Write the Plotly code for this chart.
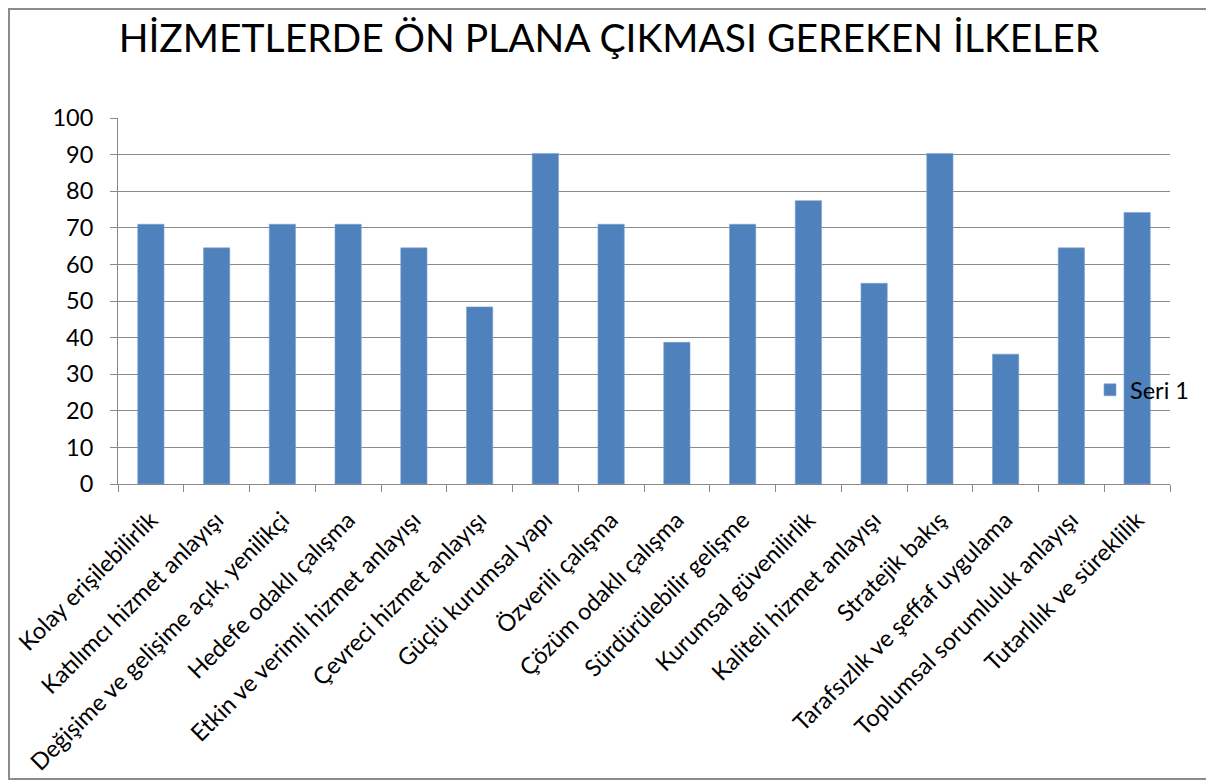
import plotly.graph_objects as go

categories = [
    "Kolay erişilebilirlik",
    "Katılımcı hizmet anlayışı",
    "Değişime ve gelişime açık, yenilikçi",
    "Hedefe odaklı çalışma",
    "Etkin ve verimli hizmet anlayışı",
    "Çevreci hizmet anlayışı",
    "Güçlü kurumsal yapı",
    "Özverili çalışma",
    "Çözüm odaklı çalışma",
    "Sürdürülebilir gelişme",
    "Kurumsal güvenilirlik",
    "Kaliteli hizmet anlayışı",
    "Stratejik bakış",
    "Tarafsızlık ve şeffaf uygulama",
    "Toplumsal sorumluluk anlayışı",
    "Tutarlılık ve süreklilik",
]
seri1 = [70.97, 64.52, 70.97, 70.97, 64.52, 48.39, 90.32, 70.97,
         38.71, 70.97, 77.42, 54.84, 90.32, 35.48, 64.52, 74.19]
series_name = "Seri 1"
title_text = "HİZMETLERDE ÖN PLANA ÇIKMASI GEREKEN İLKELER"
y_ticks = list(range(0, 101, 10))

FONT = "Lato, 'Open Sans', sans-serif"
GRID = "#8a8a8a"
FS = 23.5

fig = go.Figure()
fig.add_trace(go.Bar(
    x=categories, y=seri1, name=series_name,
    marker=dict(color="#4F81BD", line=dict(color="#7FA2CF", width=0.6)),
    showlegend=True,
))

# page has an 8px body margin; figure coords = screen - 8
W, H = 1206, 774
ml, mr, mt, mb = 110, 44, 110, 298
pw, ph = W - ml - mr, H - mt - mb

def px_x(x):
    return (x - ml) / pw

def px_y(y):
    return (H - mb - y) / ph

fig.update_layout(
    width=W, height=H,
    margin=dict(l=ml, r=mr, t=mt, b=mb, autoexpand=False),
    paper_bgcolor="white", plot_bgcolor="white",
    font=dict(family=FONT, color="#000000", size=FS),
    title=dict(text=title_text, x=601 / W, xanchor="center", xref="container",
               y=1 - 30 / H, yanchor="middle", yref="container",
               font=dict(family=FONT, size=39, color="#000000")),
    bargap=0.6,
    showlegend=True,
    legend=dict(x=px_x(1082), y=px_y(382), xanchor="left", yanchor="middle",
                bgcolor="rgba(0,0,0,0)", font=dict(size=FS, family=FONT),
                itemclick=False, borderwidth=0),
    xaxis=dict(
        type="category", tickangle=-45, tickson="boundaries",
        ticks="outside", ticklen=7, tickcolor=GRID,
        showline=True, linecolor=GRID, linewidth=1,
        showgrid=False, tickfont=dict(size=FS, family=FONT),
        ticklabelstandoff=12, fixedrange=True,
    ),
    yaxis=dict(
        range=[0, 100], tickvals=y_ticks, ticks="outside", ticklen=7,
        tickcolor=GRID, showline=True, linecolor=GRID, linewidth=1,
        showgrid=True, gridcolor=GRID, gridwidth=1, zeroline=False,
        tickfont=dict(size=FS, family=FONT), ticklabelstandoff=12,
        fixedrange=True,
    ),
    shapes=[dict(type="rect", xref="paper", yref="paper",
                 x0=px_x(1), x1=px_x(1202), y0=px_y(771), y1=px_y(1),
                 line=dict(color="#8c8c8c", width=2), fillcolor="rgba(0,0,0,0)",
                 layer="below")],
)

fig.write_html("out.html")
